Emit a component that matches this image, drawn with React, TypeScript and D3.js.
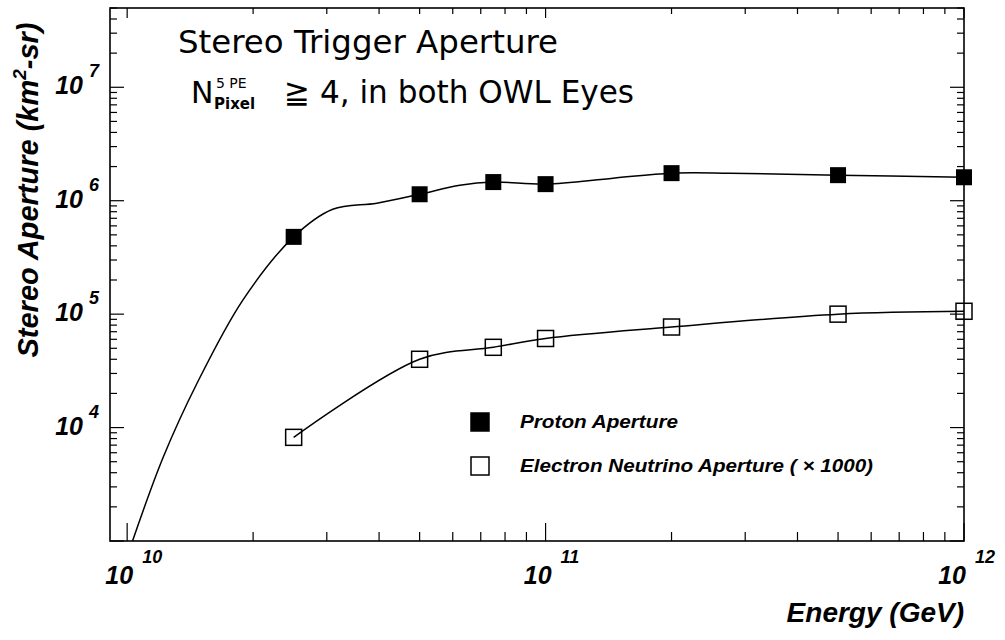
import React, { useRef, useEffect } from 'react';
import * as d3 from 'd3';

// Measured points (GeV, km^2-sr)
const energies = [2.5e10, 5e10, 7.5e10, 1e11, 2e11, 5e11, 1e12];
const protonAperture = [4.8e5, 1.14e6, 1.46e6, 1.4e6, 1.75e6, 1.68e6, 1.61e6];
const neutrinoAperture = [8.2e3, 4.0e4, 5.1e4, 6.1e4, 7.7e4, 1.0e5, 1.06e5];

// Smooth fit drawn through the proton points
const protonFitEnergy = [1.03e10, 1.22e10, 1.47e10, 1.89e10, 2.5e10, 3.1e10, 3.95e10, 5e10, 6.24e10, 7.5e10, 1e11, 1.45e11, 2e11, 2.76e11, 5e11, 1e12];
const protonFitAperture = [1e3, 5.5e3, 2.47e4, 1.33e5, 4.8e5, 8.4e5, 9.5e5, 1.14e6, 1.37e6, 1.46e6, 1.4e6, 1.58e6, 1.75e6, 1.75e6, 1.68e6, 1.61e6];

const xLabelTicks = [1e10, 1e11, 1e12];
const yLabelTicks = [1e4, 1e5, 1e6, 1e7];

const legendLabels = ['Proton Aperture', 'Electron Neutrino Aperture ( \u00d7 1000)'];
const legendWidths = [158, 353];

const W = 1005;
const H = 640;

const App = () => {
  const ref = useRef<SVGSVGElement>(null);

  useEffect(() => {
    const svg = d3.select(ref.current);
    svg.selectAll('*').remove();

    const left = 110, right = 964, top = 8, bottom = 541;
    const x = d3.scaleLog().domain([Math.pow(10, 9.959), 1e12]).range([left, right]);
    const y = d3.scaleLog().domain([1e3, 5e7]).range([bottom, top]);
    const isMajor = (v: number) => Math.abs(Math.log10(v) - Math.round(Math.log10(v))) < 1e-6;

    svg.append('rect').attr('width', W).attr('height', H).attr('fill', '#fff');

    svg.append('clipPath').attr('id', 'plot-clip')
      .append('rect')
      .attr('x', left).attr('y', top)
      .attr('width', right - left).attr('height', bottom - top);

    // frame
    svg.append('rect')
      .attr('x', left).attr('y', top)
      .attr('width', right - left).attr('height', bottom - top)
      .attr('fill', 'none').attr('stroke', '#000').attr('stroke-width', 1.6);

    // ticks, all four sides, pointing inward
    const ticks = svg.append('g').attr('stroke', '#000').attr('stroke-width', 1.2);
    x.ticks().forEach(t => {
      const px = x(t);
      const major = isMajor(t);
      ticks.append('line').attr('x1', px).attr('x2', px).attr('y1', bottom).attr('y2', bottom - (major ? 18 : 9));
      ticks.append('line').attr('x1', px).attr('x2', px).attr('y1', top).attr('y2', top + (major ? 10 : 6));
    });
    y.ticks().forEach(t => {
      const py = y(t);
      const major = isMajor(t);
      ticks.append('line').attr('x1', left).attr('x2', left + (major ? 14 : 7)).attr('y1', py).attr('y2', py);
      ticks.append('line').attr('x1', right).attr('x2', right - (major ? 14 : 7)).attr('y1', py).attr('y2', py);
    });

    const labelFont = 'Liberation Sans, Arial, Helvetica, sans-serif';

    // x tick labels
    xLabelTicks.forEach(t => {
      const px = x(t);
      const g = svg.append('g').attr('font-family', labelFont).attr('font-weight', 'bold').attr('font-style', 'italic').attr('fill', '#000');
      const shift = t === 1e12 ? -4 : 0;
      g.append('text').attr('x', px + 6 + shift).attr('y', 584).attr('text-anchor', 'end').attr('font-size', 25).text('10');
      g.append('text').attr('x', px + 15 + shift).attr('y', 563).attr('font-size', 18).text(String(Math.round(Math.log10(t))));
    });

    // y tick labels
    yLabelTicks.forEach(t => {
      const py = y(t);
      const g = svg.append('g').attr('font-family', labelFont).attr('font-weight', 'bold').attr('font-style', 'italic').attr('fill', '#000');
      g.append('text').attr('x', 83).attr('y', py + 7).attr('text-anchor', 'end').attr('font-size', 25).text('10');
      g.append('text').attr('x', 89).attr('y', py - 10).attr('font-size', 18).text(String(Math.round(Math.log10(t))));
    });

    // axis titles
    const yt = svg.append('text')
      .attr('transform', 'translate(38,190) rotate(-90)')
      .attr('text-anchor', 'middle')
      .attr('font-family', labelFont).attr('font-weight', 'bold').attr('font-style', 'italic')
      .attr('font-size', 29);
    yt.append('tspan').text('Stereo Aperture (km');
    yt.append('tspan').attr('dy', -12).attr('font-size', 19).text('2');
    yt.append('tspan').attr('dy', 12).text('-sr)');

    svg.append('text')
      .attr('x', 964).attr('y', 622).attr('text-anchor', 'end')
      .attr('font-family', labelFont).attr('font-weight', 'bold').attr('font-style', 'italic')
      .attr('font-size', 28).text('Energy (GeV)');

    // title block
    const titleFont = 'DejaVu Sans, sans-serif';
    svg.append('text').attr('x', 178).attr('y', 53)
      .attr('font-family', titleFont).attr('font-size', 32)
      .attr('textLength', 380).attr('lengthAdjust', 'spacingAndGlyphs')
      .text('Stereo Trigger Aperture');
    svg.append('text').attr('x', 191).attr('y', 103).attr('font-family', titleFont).attr('font-size', 30).text('N');
    svg.append('text').attr('x', 214).attr('y', 109).attr('font-family', titleFont).attr('font-weight', 'bold').attr('font-size', 15).text('Pixel');
    svg.append('text').attr('x', 216).attr('y', 88).attr('font-family', titleFont).attr('font-size', 14).text('5 PE');
    svg.append('text').attr('x', 284).attr('y', 103)
      .attr('font-family', titleFont).attr('font-size', 32)
      .attr('textLength', 350).attr('lengthAdjust', 'spacingAndGlyphs')
      .text('\u2267 4, in both OWL Eyes');

    // curves
    const plot = svg.append('g').attr('clip-path', 'url(#plot-clip)');
    const line = d3.line<[number, number]>()
      .x(d => x(d[0]))
      .y(d => y(d[1]))
      .curve(d3.curveCatmullRom.alpha(0.5));

    const protonFit = protonFitEnergy.map((e, i) => [e, protonFitAperture[i]] as [number, number]);
    const neutrinoFit = energies.map((e, i) => [e, neutrinoAperture[i]] as [number, number]);

    plot.append('path').datum(protonFit)
      .attr('fill', 'none').attr('stroke', '#000').attr('stroke-width', 1.5).attr('d', line);
    plot.append('path').datum(neutrinoFit)
      .attr('fill', 'none').attr('stroke', '#000').attr('stroke-width', 1.5).attr('d', line);

    // markers
    const s = 16;
    svg.append('g').selectAll('rect')
      .data(energies.map((e, i) => [e, protonAperture[i]]))
      .enter().append('rect')
      .attr('x', d => x(d[0]) - s / 2).attr('y', d => y(d[1]) - s / 2)
      .attr('width', s).attr('height', s).attr('fill', '#000');
    svg.append('g').selectAll('rect')
      .data(energies.map((e, i) => [e, neutrinoAperture[i]]))
      .enter().append('rect')
      .attr('x', d => x(d[0]) - s / 2).attr('y', d => y(d[1]) - s / 2)
      .attr('width', s).attr('height', s).attr('fill', 'none')
      .attr('stroke', '#000').attr('stroke-width', 1.5);

    // legend
    const legend = svg.append('g').attr('transform', 'translate(480,422)');
    legendLabels.forEach((label, i) => {
      const ly = i * 44;
      legend.append('rect')
        .attr('x', -9).attr('y', ly - 9).attr('width', 18).attr('height', 18)
        .attr('fill', i === 0 ? '#000' : 'none')
        .attr('stroke', '#000').attr('stroke-width', 1.5);
      legend.append('text')
        .attr('x', 40).attr('y', ly + 6)
        .attr('font-family', labelFont).attr('font-weight', 'bold').attr('font-style', 'italic')
        .attr('font-size', 18)
        .attr('textLength', legendWidths[i]).attr('lengthAdjust', 'spacingAndGlyphs')
        .text(label);
    });
  }, []);

  return (
    <svg ref={ref} width={W} height={H} style={{ position: 'absolute', left: 0, top: 0 }} />
  );
};

export default App;
